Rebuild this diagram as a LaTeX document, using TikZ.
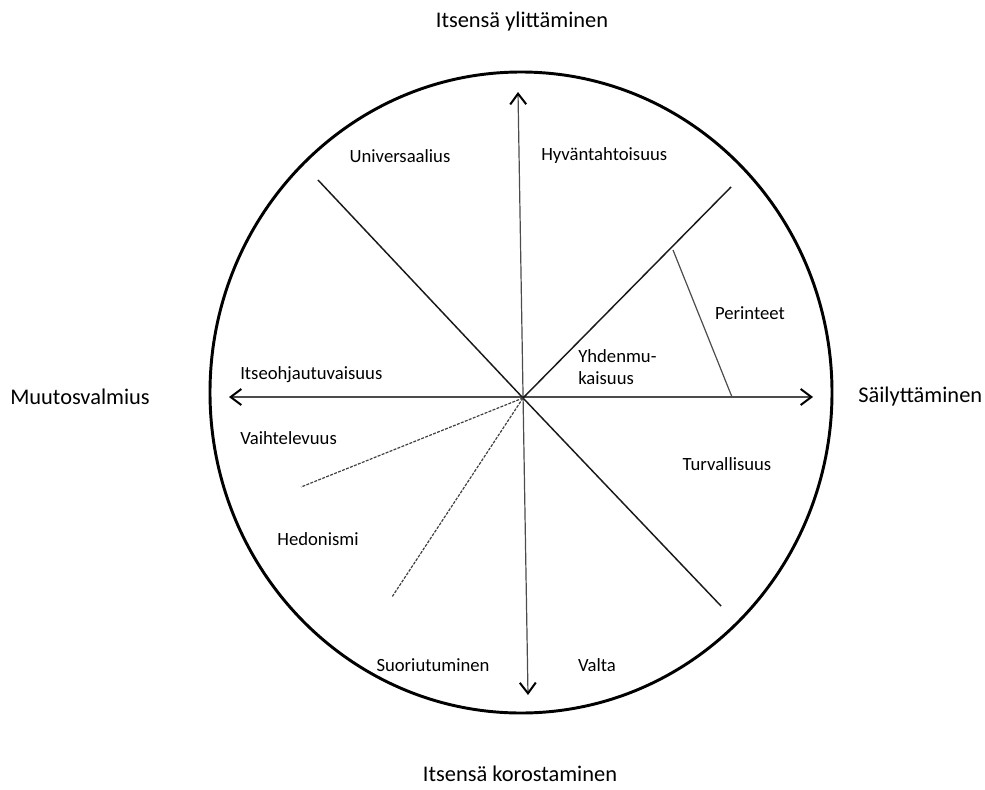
\documentclass[tikz,border=0pt]{standalone}
\usepackage{fontspec}
\setmainfont{Carlito}
\usetikzlibrary{arrows.meta}
\begin{document}
\begin{tikzpicture}[x=0.75pt,y=-0.75pt,
  spoke/.style={line width=1.1pt, draw=black!90},
  thinline/.style={line width=0.9pt, draw=black!70},
  barb/.style={Straight Barb[length=8pt,width=12pt,line width=1.5pt]},
  axis/.style={thinline, {Straight Barb[length=8pt,width=12pt,line width=1.5pt,color=black]}-{Straight Barb[length=8pt,width=12pt,line width=1.5pt,color=black]}},
  dashline/.style={line width=0.9pt, draw=black!75, dash pattern=on 2.2pt off 1pt},
  inlabel/.style={font=\fontsize{14}{17}\selectfont, inner sep=0pt},
  outlabel/.style={font=\fontsize{16.8}{20}\selectfont, inner sep=0pt}]
\useasboundingbox (0,0) rectangle (985,789);
% circle
\draw[line width=2.2pt] (521,392.5) ellipse [x radius=311, y radius=320.5];
% coordinates
\coordinate (O) at (523,398);
\coordinate (T) at (518,92);
\coordinate (B) at (528,695);
\coordinate (L) at (229,397);
\coordinate (R) at (813,397);
\coordinate (NW) at (318,180);
\coordinate (SE) at (721,606);
\coordinate (NE) at (731,187);
\coordinate (P1) at (673,250);
\coordinate (P2) at (732,397);
\coordinate (D1) at (301,487);
\coordinate (D2) at (392,597);
% axes
\draw[axis] (T) -- (B);
\draw[axis] (L) -- (R);
% spokes
\draw[spoke] (NW) -- (O) -- (SE);
\draw[spoke] (O) -- (NE);
\draw[thinline] (P1) -- (P2);
\draw[dashline] (O) -- (D1);
\draw[dashline] (O) -- (D2);
% outer labels
\node[outlabel] (top) at (522,22) {Itsensä ylittäminen};
\node[outlabel] (bot) at (520,774) {Itsensä korostaminen};
\node[outlabel] (left) at (80,397) {Muutosvalmius};
\node[outlabel, anchor=west] (right) at (858,397) {Säilyttäminen};
% inner labels
\node[inlabel] (uni) at (400,156) {Universaalius};
\node[inlabel, anchor=west] (hyv) at (541,156) {Hyväntahtoisuus};
\node[inlabel] (per) at (750,313) {Perinteet};
\node[inlabel, align=left, anchor=west] (yhd) at (578,367) {Yhdenmu-\\kaisuus};
\node[inlabel, anchor=west] (its) at (240,375) {Itseohjautuvaisuus};
\node[inlabel, anchor=west] (vai) at (240,438) {Vaihtelevuus};
\node[inlabel] (tur) at (727,464) {Turvallisuus};
\node[inlabel] (hed) at (318,539) {Hedonismi};
\node[inlabel] (suo) at (433,665) {Suoriutuminen};
\node[inlabel] (val) at (597,665) {Valta};
\end{tikzpicture}
\end{document}
